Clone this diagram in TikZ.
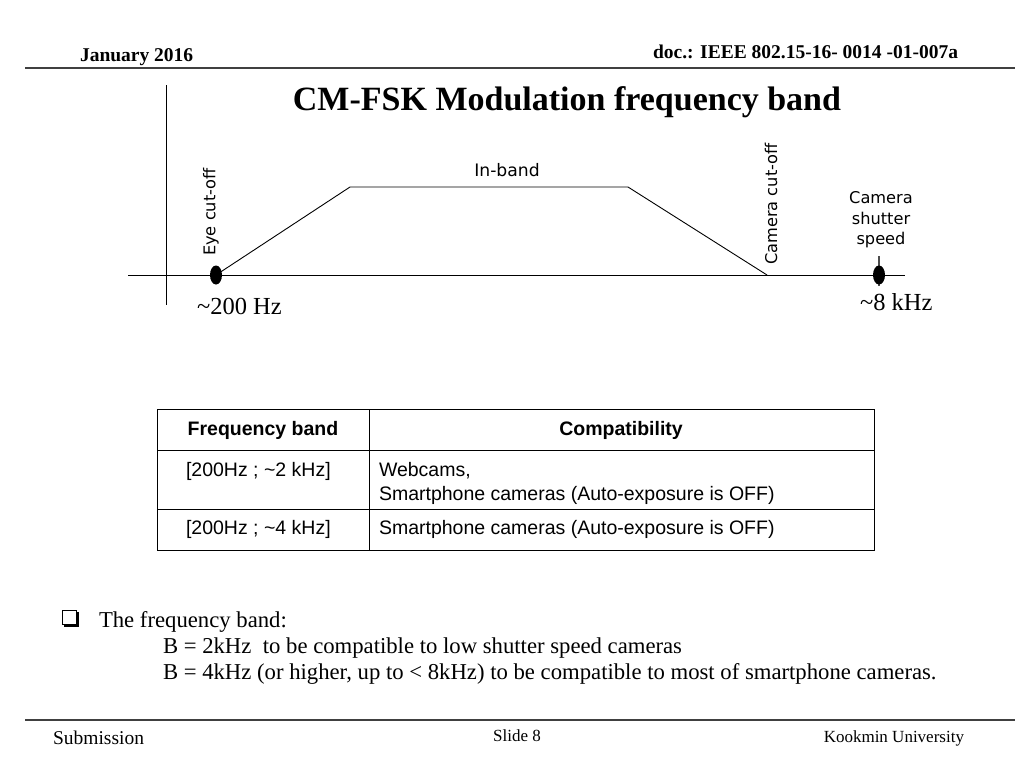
\documentclass[tikz,border=0pt]{standalone}
\usepackage{fontspec}
\usetikzlibrary{shapes.geometric}
\setmainfont{Liberation Serif}
\setsansfont{Liberation Sans}
\newfontfamily\dejavu{DejaVu Sans}
\begin{document}
\begin{tikzpicture}[x=1pt,y=-1pt,
  every node/.style={inner sep=0pt,outer sep=0pt},
  hdr/.style={font=\fontsize{19.5}{22}\selectfont\bfseries},
  ftr/.style={font=\fontsize{17}{20}\selectfont},
  lbl/.style={font=\dejavu\fontsize{16.2}{20.5}\selectfont,align=center},
  freq/.style={font=\fontsize{24.5}{28}\selectfont},
  tbl/.style={font=\sffamily\fontsize{19.5}{24}\selectfont,align=left},
  tblh/.style={font=\sffamily\bfseries\fontsize{19.5}{24}\selectfont},
  body/.style={font=\fontsize{22.7}{26}\selectfont},
  axis/.style={line width=0.9pt},
  curve/.style={line width=0.9pt},
  rule/.style={line width=1.6pt,draw=black!75},
  dot/.style={ellipse,fill=black,minimum width=12pt,minimum height=19pt}
]
\useasboundingbox (0,0) rectangle (1024,768);
% header
\node[hdr,anchor=base west] (date) at (80,61) {January 2016};
\node[hdr,anchor=base east] (doc) at (958,59) {doc.: IEEE 802.15-16- 0014 -01-007a};
\coordinate (hl) at (25,68); \coordinate (hr) at (1015,68);
\draw[rule] (hl) -- (hr);
\node[font=\fontsize{34}{38}\selectfont\bfseries,anchor=base] (title) at (567,110) {CM-FSK Modulation frequency band};
% axes
\coordinate (ya) at (166,85); \coordinate (yb) at (166,305);
\coordinate (xa) at (128,275); \coordinate (xb) at (905,275);
\draw[axis] (ya) -- (yb);
\draw[axis] (xa) -- (xb);
% trapezoid
\coordinate (p0) at (216,275);
\coordinate (p1) at (350,187);
\coordinate (p2) at (628,187);
\coordinate (p3) at (767,275);
\draw[curve] (p0) -- (p1) -- (p2) -- (p3);
\node[dot] (d1) at (p0) {};
\coordinate (t1) at (879,256); \coordinate (t2) at (879,286);
\draw[line width=1.2pt,black!70] (t1) -- (t2);
\node[dot] (d2) at (879,275) {};
% labels
\node[lbl,rotate=90] (eye) at (211,212) {Eye cut-off};
\node[lbl,font=\dejavu\fontsize{17.2}{20}\selectfont] (inb) at (507,170) {In-band};
\node[lbl,rotate=90] (cam) at (771,204) {Camera cut-off};
\node[lbl] (css) at (881,220) {Camera\\shutter\\speed};
\node[freq,anchor=base west] (f1) at (197,314) {\textasciitilde 200 Hz};
\node[freq,anchor=base west] (f2) at (860,310) {\textasciitilde 8 kHz};
% table
\draw[line width=1pt] (157,409) rectangle (874,550);
\draw[line width=1pt] (369,409) -- (369,550);
\draw[line width=1pt] (157,450) -- (874,450);
\draw[line width=1pt] (157,509) -- (874,509);
\node[tblh,anchor=base] (h1) at (263,435) {Frequency band};
\node[tblh,anchor=base] (h2) at (621,435) {Compatibility};
\node[tbl,anchor=base west] (r1a) at (186,476) {[200Hz ; \textasciitilde 2 kHz]};
\node[tbl,anchor=base west] (r1b) at (379,476) {Webcams,};
\node[tbl,anchor=base west] (r1c) at (379,500) {Smartphone cameras (Auto-exposure is OFF)};
\node[tbl,anchor=base west] (r2a) at (186,534) {[200Hz ; \textasciitilde 4 kHz]};
\node[tbl,anchor=base west] (r2b) at (379,534) {Smartphone cameras (Auto-exposure is OFF)};
% bullet text
\fill[black] (64,612) rectangle (79,627);
\fill[white] (62,610) rectangle (76,624);
\draw[line width=1pt] (62,610) rectangle (76,624);
\node[body,anchor=base west] (b0) at (99,627) {The frequency band:};
\node[body,anchor=base west] (b1) at (163,653) {B = 2kHz\ \ to be compatible to low shutter speed cameras};
\node[body,anchor=base west] (b2) at (163,679) {B = 4kHz (or higher, up to < 8kHz) to be compatible to most of smartphone cameras.};
% footer
\coordinate (fl) at (25,720); \coordinate (fr) at (1015,720);
\draw[rule] (fl) -- (fr);
\node[ftr,anchor=base west,font=\fontsize{19.5}{22}\selectfont] (sub) at (53,744) {Submission};
\node[ftr,anchor=base] (sl) at (517,741) {Slide 8};
\node[ftr,anchor=base east] (ku) at (964,742) {Kookmin University};
\end{tikzpicture}
\end{document}
